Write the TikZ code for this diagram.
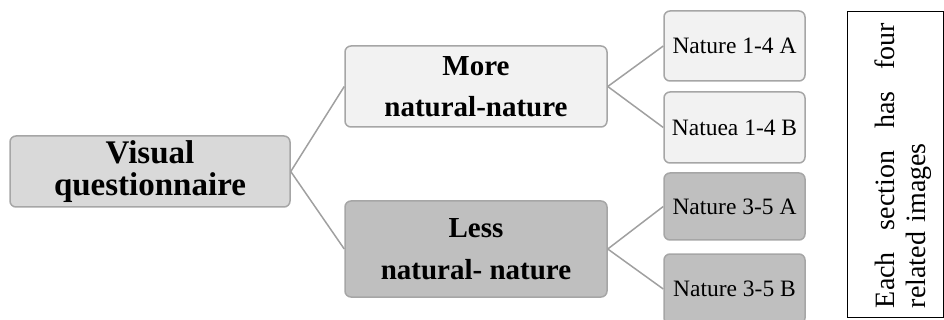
\documentclass[tikz,border=0pt]{standalone}
\usepackage{fontspec}
\setmainfont{Liberation Serif}
\definecolor{boxgray}{HTML}{A6A6A6}
\definecolor{linegray}{HTML}{A0A0A0}
\definecolor{rootfill}{HTML}{D9D9D9}
\definecolor{lightfill}{HTML}{F2F2F2}
\definecolor{darkfill}{HTML}{BFBFBF}
\begin{document}
\begin{tikzpicture}[x=1pt,y=-1pt,
  box/.style={draw=boxgray, line width=1.5pt, rounded corners=6pt, inner sep=0pt, align=center},
  leaf/.style={box, minimum width=141pt, font=\fontsize{23.5}{25}\selectfont},
  conn/.style={draw=linegray, line width=1.5pt}]
\useasboundingbox (0,0) rectangle (944,320);
\node[box, fill=rootfill, minimum width=280pt, minimum height=71pt,
      font=\bfseries\fontsize{33}{32}\selectfont] (root) at (150,171.5) {Visual\\questionnaire};
\node[box, fill=lightfill, minimum width=262pt, minimum height=81pt,
      font=\bfseries\fontsize{29}{41}\selectfont] (more) at (476,86.5) {More\\natural-nature};
\node[box, fill=darkfill, minimum width=262pt, minimum height=96pt,
      font=\bfseries\fontsize{29}{42}\selectfont] (less) at (476,249) {Less\\natural- nature};
\node[leaf, fill=lightfill, minimum height=70pt] (l1) at (734.5,46) {Nature 1-4 A};
\node[leaf, fill=lightfill, minimum height=71pt] (l2) at (734.5,127.5) {Natuea 1-4 B};
\node[leaf, fill=darkfill, minimum height=67pt] (l3) at (734.5,206.5) {Nature 3-5 A};
\node[leaf, fill=darkfill, minimum height=70pt] (l4) at (734.5,289) {Nature 3-5 B};
\node[draw=black, line width=1pt, minimum width=96pt, minimum height=305pt, inner sep=0pt] (note) at (895,164.5) {};
\node[rotate=90, align=left, text width=285pt, inner sep=0pt, font=\fontsize{28}{31}\selectfont]
  (notetext) at (903,165.5) {Each\hfill section\hfill has\hfill four\\related images};
\draw[conn] (root.east) -- (more.west);
\draw[conn] (root.east) -- (less.west);
\draw[conn] (more.east) -- (l1.west);
\draw[conn] (more.east) -- (l2.west);
\draw[conn] (less.east) -- (l3.west);
\draw[conn] (less.east) -- (l4.west);
\end{tikzpicture}
\end{document}
